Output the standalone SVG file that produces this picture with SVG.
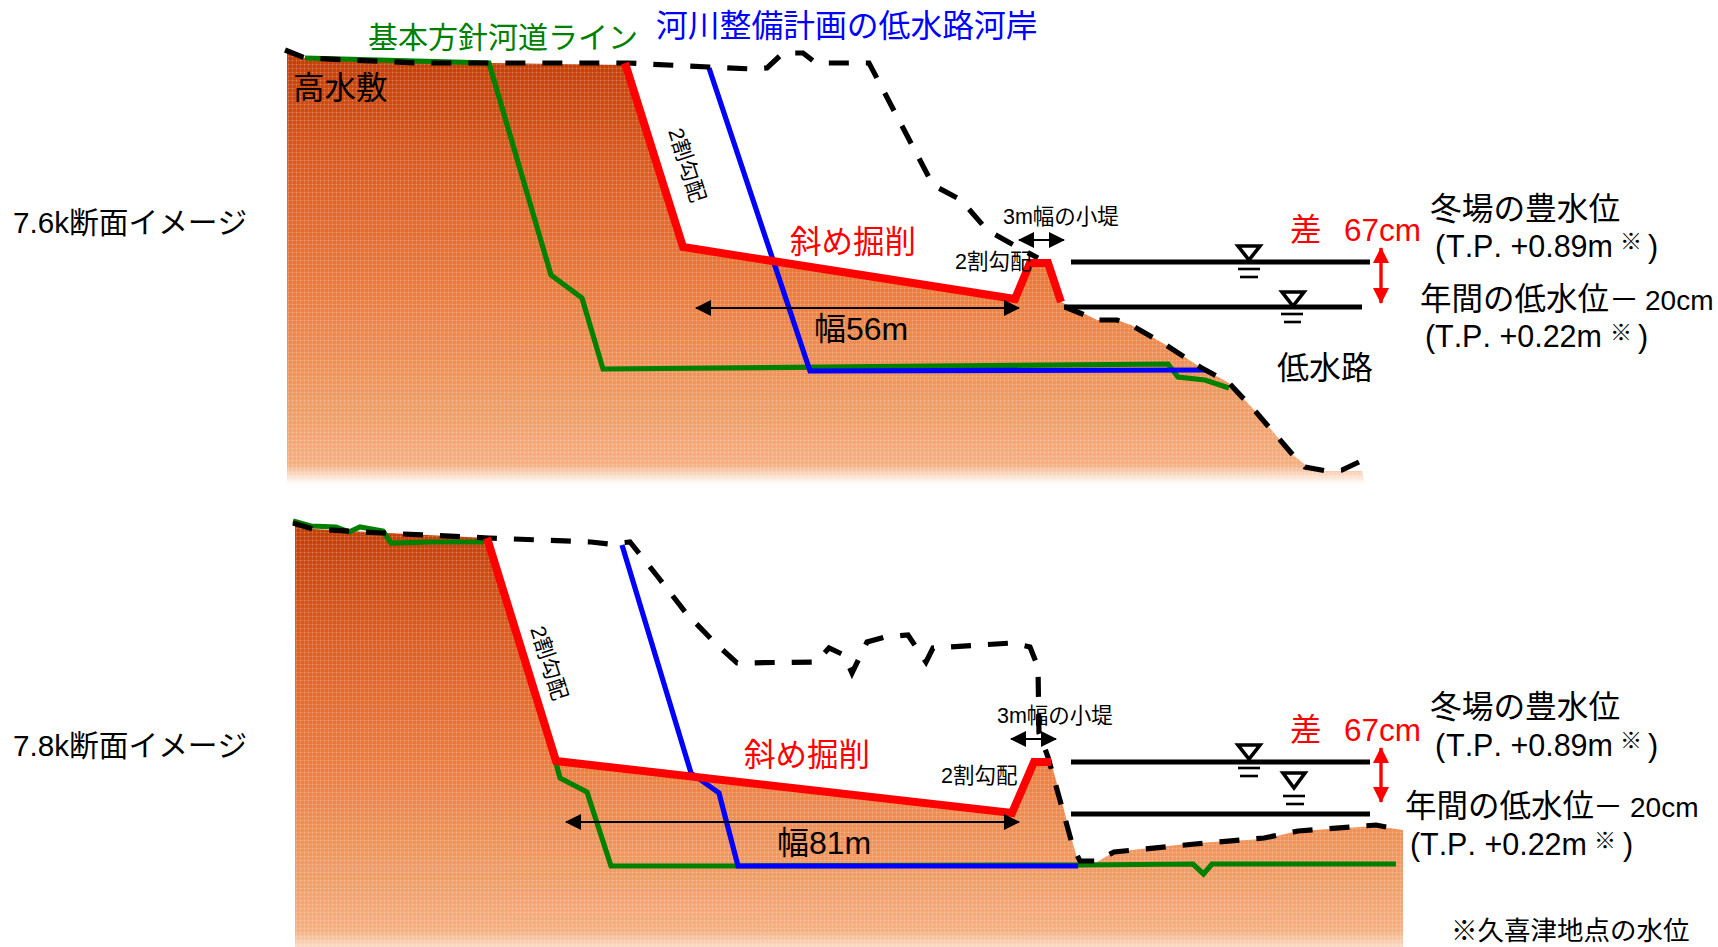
<svg xmlns="http://www.w3.org/2000/svg" width="1718" height="947" viewBox="0 0 1718 947">
<style>
text{font-family:"Liberation Sans","Noto Sans CJK JP",sans-serif;fill:#000;font-kerning:none}
.dash{fill:none;stroke:#000;stroke-width:5.2;stroke-dasharray:20 17}
.green{fill:none;stroke:#008000;stroke-width:5.2}
.blue{fill:none;stroke:#0000ff;stroke-width:5.2}
.red{fill:none;stroke:#ff0000;stroke-width:8}
.arrow{stroke:#000;stroke-width:2;marker-start:url(#ah);marker-end:url(#ah)}
.rarrow{stroke:#ff0000;stroke-width:3.4;marker-start:url(#rh);marker-end:url(#rh)}
.w{stroke:#000;stroke-width:5}
.tri{fill:#fff;stroke:#000;stroke-width:3.6}
.t{stroke:#000;stroke-width:2.6}
.f31{font-size:31.5px}.f21{font-size:21.5px}
</style>
<defs>
<linearGradient id="g1" gradientUnits="userSpaceOnUse" x1="0" y1="52" x2="0" y2="484">
<stop offset="0" stop-color="#c43c04"/><stop offset=".25" stop-color="#dc5c1e"/><stop offset=".55" stop-color="#ec7c3c"/><stop offset=".85" stop-color="#f2a06c"/><stop offset=".955" stop-color="#f5b082"/><stop offset="1" stop-color="#ffffff"/>
</linearGradient>
<linearGradient id="g2" gradientUnits="userSpaceOnUse" x1="0" y1="523" x2="0" y2="950">
<stop offset="0" stop-color="#c43c04"/><stop offset=".25" stop-color="#dc5c1e"/><stop offset=".55" stop-color="#ec7c3c"/><stop offset=".85" stop-color="#f2a06c"/><stop offset=".955" stop-color="#f5b082"/><stop offset="1" stop-color="#fbe4d2"/>
</linearGradient>
<pattern id="dots" width="4" height="4" patternUnits="userSpaceOnUse">
<rect x="0" y="0" width="4" height="1" fill="#ffffff" fill-opacity=".1"/><rect x="0" y="1" width="1" height="3" fill="#ffffff" fill-opacity=".1"/><rect x="0" y="0" width="1" height="1" fill="#ffffff" fill-opacity=".25"/>
</pattern>
<marker id="ah" viewBox="0 0 16 16" refX="15" refY="8" markerWidth="16" markerHeight="16" markerUnits="userSpaceOnUse" orient="auto-start-reverse"><path d="M0,0L16,8L0,16Z" fill="#000"/></marker>
<marker id="rh" viewBox="0 0 16 16" refX="15" refY="8" markerWidth="16" markerHeight="16" markerUnits="userSpaceOnUse" orient="auto-start-reverse"><path d="M0,0L16,8L0,16Z" fill="#ff0000"/></marker>
<polygon id="ter1" points="287,52 305,58 433,63 489,63 625,65 683,247 1015,300 1029,263 1048,263 1061,302 1097,320 1117,320 1131,325 1166,345 1200,367 1229,383 1256,412 1293,455 1313,471 1362,471 1365,484 287,484"/>
<polygon id="ter2" points="295,525 313,529 387,533 487,538 556,761 1012,813 1034,762 1051,762 1078,862 1097,862 1114,852 1195,843 1264,839 1298,831 1376,826 1403,830 1403,947 295,947"/>
</defs>
<rect width="1718" height="947" fill="#fff"/>
<g id="section-76">
<use href="#ter1" fill="url(#g1)"/><use href="#ter1" fill="url(#dots)"/>
<polyline class="green" points="305,58 489,63 551,275 582,298 603,369 1168,364 1178,377 1205,380 1229,388"/>
<polyline class="blue" points="709,68 810,371 1205,370"/>
<polyline class="dash" points="285,50 305,58 418,63 489,63 627,63 709,67 752,69 767,68 783,53 803,53 816,63 869,63 933,185 961,200 987,230 1019,248 1038,258"/>
<polyline class="dash" points="1065,307 1097,320 1117,320 1131,325 1166,345 1200,367 1229,383 1256,412 1293,455 1305,467 1327,471 1342,470 1359,462"/>
<polyline class="red" points="625,63 683,247 1015,299 1030,263 1048,263 1061,302"/>
<line class="arrow" x1="696" y1="308" x2="1019" y2="308"/>
<line class="arrow" x1="1019" y1="240" x2="1064" y2="240"/>
<line class="w" x1="1071" y1="262" x2="1370" y2="262"/>
<line class="w" x1="1064" y1="307" x2="1362" y2="307"/>
<polygon class="tri" points="1238,246 1260,246 1249,260"/>
<line class="t" x1="1238" y1="269" x2="1260" y2="269"/><line class="t" x1="1240" y1="277" x2="1258" y2="277"/>
<polygon class="tri" points="1282,292 1304,292 1293,306"/>
<line class="t" x1="1281" y1="314" x2="1303" y2="314"/><line class="t" x1="1284" y1="322" x2="1301" y2="322"/>
<line class="rarrow" x1="1381" y1="248" x2="1381" y2="303"/>
</g>
<g id="section-78">
<use href="#ter2" fill="url(#g2)"/><use href="#ter2" fill="url(#dots)"/>
<polyline class="green" points="293,521 311,526 336,527 349,532 360,527 383,531 391,543 431,542 484,542"/>
<polyline class="green" points="556,763 560,778 587,792 611,866 737,866 1078,865 1193,864 1203.5,874 1212,864 1396,864"/>
<polyline class="blue" points="622,545 691,773 719,793 738,866 1078,866"/>
<polyline class="dash" points="293,523 313,529 382,533 489,538 591,542 609,544 630,542 658,577 686,613 714,642 737,663 816,662 829,648 844,655 852,673 867,642 885,637 908,635 926,662 933,648 1012,643 1030,647 1038,667 1039,733 1048,757 1073,847 1080,861 1097,861 1114,852 1195,844 1264,838 1298,831 1376,825 1391,828"/>
<polyline class="red" points="487,538 556,761 1012,813 1034,762 1051,762"/>
<line class="arrow" x1="566" y1="822" x2="1019" y2="822"/>
<line class="arrow" x1="1011" y1="739" x2="1056" y2="739"/>
<line class="w" x1="1071" y1="762" x2="1370" y2="762"/>
<line class="w" x1="1071" y1="814" x2="1370" y2="814"/>
<polygon class="tri" points="1238,745 1260,745 1249,759"/>
<line class="t" x1="1238" y1="768" x2="1260" y2="768"/><line class="t" x1="1240" y1="776" x2="1258" y2="776"/>
<polygon class="tri" points="1283,773 1305,773 1294,788"/>
<line class="t" x1="1283" y1="796" x2="1305" y2="796"/><line class="t" x1="1286" y1="804" x2="1304" y2="804"/>
<line class="rarrow" x1="1381" y1="748" x2="1381" y2="802"/>
</g>
<g id="labels">
<text x="368" y="48" font-size="30" style="fill:#008000">基本方針河道ライン</text>
<text x="656" y="37" style="fill:#0000ff;font-size:31.8px">河川整備計画の低水路河岸</text>
<text x="293" y="99" class="f31">高水敷</text>
<text class="f21" transform="translate(668,131) rotate(72)">2割勾配</text>
<text x="790" y="253" class="f31" style="fill:#f00">斜め掘削</text>
<text x="814" y="340" style="font-size:32px">幅56m</text>
<text x="13" y="233" font-size="29.7">7.6k断面イメージ</text>
<text x="1003" y="224" class="f21">3m幅の小堤</text>
<text x="955" y="269" class="f21">2割勾配</text>
<text x="1290" y="241" class="f31" style="fill:#f00">差</text>
<text x="1344" y="241" class="f31" style="fill:#f00">67cm</text>
<text x="1430" y="220" style="font-size:31.7px">冬場の豊水位</text>
<text x="1435" y="257" font-size="30.5">(</text><text x="1446" y="257" font-size="30.5">T.P. +0.89m</text><text x="1620" y="249" font-size="22">※</text><text x="1648" y="257" font-size="30.5">)</text>
<text x="1420" y="310" font-size="31.5">年間の低水位</text><text x="1609" y="310" font-size="30">－</text><text x="1645" y="310" font-size="28">20cm</text>
<text x="1425" y="347" font-size="30.5">(</text><text x="1435" y="347" font-size="30.5">T.P. +0.22m</text><text x="1610" y="340" font-size="22">※</text><text x="1638" y="347" font-size="30.5">)</text>
<text x="1277" y="379" style="font-size:32px">低水路</text>
<text class="f21" transform="translate(530,629) rotate(72)">2割勾配</text>
<text x="744" y="766" class="f31" style="fill:#f00">斜め掘削</text>
<text x="777" y="854" style="font-size:32px">幅81m</text>
<text x="13" y="756" font-size="29.7">7.8k断面イメージ</text>
<text x="997" y="723" class="f21">3m幅の小堤</text>
<text x="941" y="783" class="f21">2割勾配</text>
<text x="1290" y="741" class="f31" style="fill:#f00">差</text>
<text x="1344" y="741" class="f31" style="fill:#f00">67cm</text>
<text x="1430" y="718" style="font-size:31.7px">冬場の豊水位</text>
<text x="1435" y="756" font-size="30.5">(</text><text x="1446" y="756" font-size="30.5">T.P. +0.89m</text><text x="1620" y="748" font-size="22">※</text><text x="1648" y="756" font-size="30.5">)</text>
<text x="1405" y="817" font-size="31.5">年間の低水位</text><text x="1593" y="817" font-size="30">－</text><text x="1630" y="817" font-size="28">20cm</text>
<text x="1410" y="855" font-size="30.5">(</text><text x="1420" y="855" font-size="30.5">T.P. +0.22m</text><text x="1594" y="848" font-size="22">※</text><text x="1623" y="855" font-size="30.5">)</text>
<text x="1451" y="940" font-size="26.5">※久喜津地点の水位</text>
</g>
</svg>
